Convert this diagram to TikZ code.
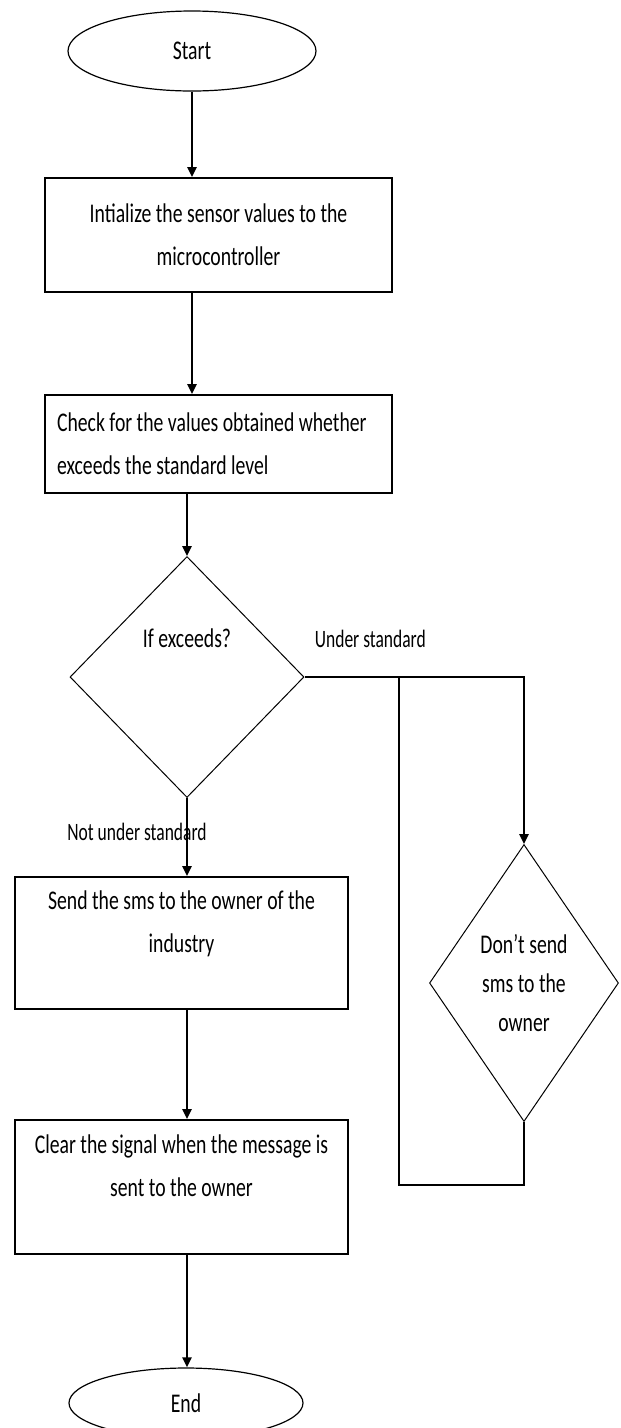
\documentclass[tikz,border=0pt]{standalone}
\usepackage{fontspec}
\setmainfont{Carlito}[FakeStretch=0.73]
\newfontfamily\notefont{Carlito}[FakeStretch=0.7]
\usepackage{tikz}
\usetikzlibrary{
  shapes.geometric,
  arrows.meta}

\begin{document}
\begin{tikzpicture}[x=1pt,y=-1pt]
\tikzset{
  terminal/.style={draw, ellipse, line width=1.2pt, inner sep=0pt,
    font={\fontsize{27}{42}\selectfont}},
  process/.style={draw, rectangle, line width=1.8pt, inner sep=0pt,
    font={\fontsize{27}{43}\selectfont}},
  decision/.style={draw, diamond, line width=1pt, inner sep=0pt,
    font={\fontsize{27}{39}\selectfont}},
  note/.style={inner sep=0pt, font={\notefont\fontsize{25}{28}\selectfont}},
  flow/.style={line width=2.4pt, -{Triangle[length=10pt,width=9pt]}},
  link/.style={line width=1.3pt},
}

\path[use as bounding box, fill=white] (0,0) rectangle (621,1428);

\node[terminal, minimum width=248pt, minimum height=80pt] (start) at (192,51) {Start};
\node[process, minimum width=347pt, minimum height=114pt,
  text width=330pt, align=flush center] (init) at (218.5,235)
  {Intialize the sensor values to the\\microcontroller};
\node[process, minimum width=347pt, minimum height=98pt,
  text width=323pt, align=flush left] (check) at (218.5,444)
  {Check for the values obtained whether\\exceeds the standard level};
\node[decision, minimum width=234pt, minimum height=241pt,
  shape aspect=0.97, text depth=78pt] (exceeds) at (187,677) {If exceeds?};
\node[decision, minimum width=189pt, minimum height=277pt,
  shape aspect=0.68, align=center] (nosms) at (524,983)
  {Don’t send\\sms to the\\owner};
\node[process, minimum width=333pt, minimum height=132pt,
  text width=320pt, align=flush center] (send) at (181.5,943)
  {Send the sms to the owner of the\\industry\\\mbox{}};
\node[process, minimum width=333pt, minimum height=134pt,
  text width=320pt, align=flush center] (clear) at (181.5,1187)
  {Clear the signal when the message is\\sent to the owner\\\mbox{}};
\node[terminal, minimum width=234pt, minimum height=70pt] (end) at (186,1403) {End};

\coordinate (loopjoin) at (399,677);

\draw[flow] (start.south) -- (start.south |- init.north);
\draw[flow] (start.south |- init.south) -- (start.south |- check.north);
\draw[flow] (exceeds.north |- check.south) -- (exceeds.north);
\draw[flow] (exceeds.east) -| node[note, pos=0.15, above=28pt] (understd) {Under standard}
  (nosms.north);
\draw[flow] (exceeds.south) -- node[note, pos=0.44, xshift=-50pt] (notunder) {Not under standard}
  (exceeds.south |- send.north);
\draw[flow] (exceeds.south |- send.south) -- (exceeds.south |- clear.north);
\draw[flow] (exceeds.south |- clear.south) -- (exceeds.south |- end.north);
\draw[link] (nosms.south) -- ++(0,63) -| (loopjoin);
\end{tikzpicture}
\end{document}
